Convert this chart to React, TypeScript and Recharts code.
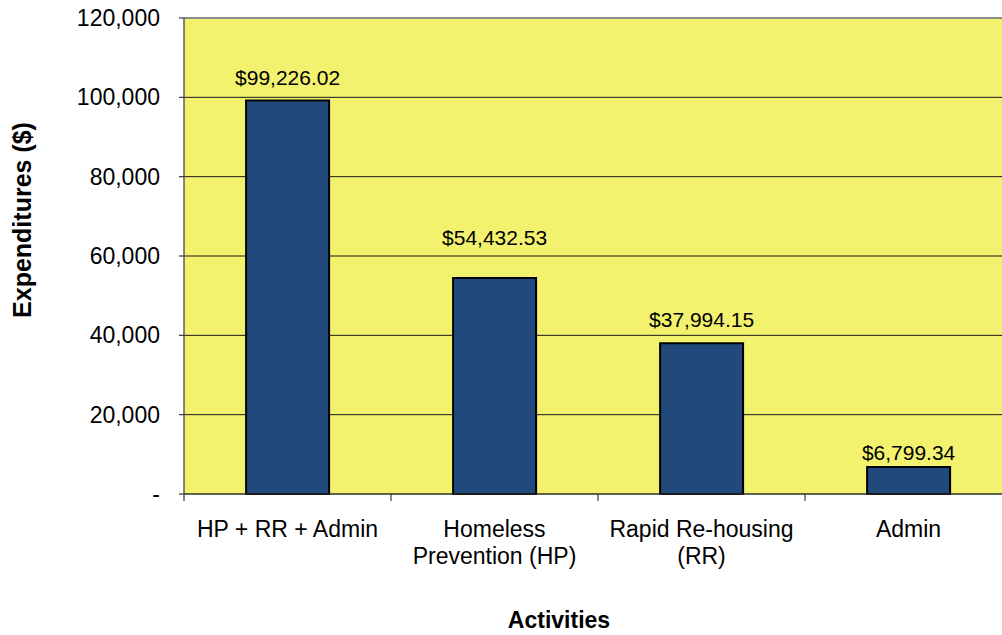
import React from 'react';
import { BarChart, Bar, XAxis, YAxis, CartesianGrid, ReferenceLine, LabelList } from 'recharts';

const categories = ['HP + RR + Admin', 'Homeless Prevention (HP)', 'Rapid Re-housing (RR)', 'Admin'];
const categoryLines = [['HP + RR + Admin'], ['Homeless', 'Prevention (HP)'], ['Rapid Re-housing', '(RR)'], ['Admin']];
const expenditures = [99226.02, 54432.53, 37994.15, 6799.34];
const yTicks = [0, 20000, 40000, 60000, 80000, 100000, 120000];
const labelLift = [15, 33, 16, 7];

const data = categories.map((name, i) => ({ name, value: expenditures[i] }));

const FONT = '"Liberation Sans", Arial, sans-serif';
const AXIS = '#3a3a3a';

const fmtMoney = (v: number) =>
  '$' + v.toLocaleString('en-US', { minimumFractionDigits: 2, maximumFractionDigits: 2 });
const fmtTick = (v: number) => (v === 0 ? '-' : v.toLocaleString('en-US'));

const CatTick = (props: any) => {
  const { x, y, payload, width, visibleTicksCount, index } = props;
  const idx = categories.indexOf(payload.value);
  const lines = idx >= 0 ? categoryLines[idx] : [String(payload.value)];
  const count = visibleTicksCount || categories.length;
  const band = width / count;
  const isLast = (index ?? idx) === count - 1;
  return (
    <g>
      <line x1={x - band / 2} x2={x - band / 2} y1={y} y2={y + 7} stroke={AXIS} strokeWidth={1.2} />
      {isLast && (
        <line x1={x + band / 2} x2={x + band / 2} y1={y} y2={y + 7} stroke={AXIS} strokeWidth={1.2} />
      )}
      <text x={x} y={y} textAnchor="middle" fontSize={23} fill="#000" fontFamily={FONT}>
        {lines.map((l, i) => (
          <tspan key={i} x={x} dy={i === 0 ? 43 : 27}>
            {l}
          </tspan>
        ))}
      </text>
    </g>
  );
};

const BarLabel = (props: any) => {
  const { x, y, width, value } = props;
  let index = props.index;
  if (index == null) index = expenditures.indexOf(value);
  const lift = labelLift[index] ?? 15;
  return (
    <text x={x + width / 2} y={y - lift} textAnchor="middle" fontSize={21} fill="#000" fontFamily={FONT}>
      {fmtMoney(value)}
    </text>
  );
};

const YTitle = (props: any) => {
  const vb = props.viewBox;
  const cx = vb.x + 22;
  const cy = vb.y + vb.height / 2 - 36;
  return (
    <text
      x={cx}
      y={cy}
      transform={`rotate(-90, ${cx}, ${cy})`}
      textAnchor="middle"
      dominantBaseline="central"
      fontSize={25}
      fontWeight="bold"
      fill="#000"
      fontFamily={FONT}
    >
      Expenditures ($)
    </text>
  );
};

const XTitle = (props: any) => {
  const vb = props.viewBox;
  return (
    <text
      x={vb.x + vb.width / 2 - 39}
      y={vb.y + 134}
      textAnchor="middle"
      fontSize={23}
      fontWeight="bold"
      fill="#000"
      fontFamily={FONT}
    >
      Activities
    </text>
  );
};

export default function App() {
  return (
    <div style={{ position: 'absolute', left: 0, top: 0, width: 1002, height: 635, overflow: 'hidden', background: '#fff' }}>
      <BarChart
        width={1020}
        height={635}
        data={data}
        margin={{ top: 18, right: 8, left: 0, bottom: 33 }}
        barCategoryGap="30%"
      >
        <CartesianGrid
          vertical={false}
          horizontal={true}
          stroke="#1a1a1a"
          fill="#F2F26E"
          fillOpacity={1}
        />
        <XAxis
          dataKey="name"
          type="category"
          height={108}
          axisLine={{ stroke: AXIS, strokeWidth: 1.2 }}
          tickLine={false}
          tickSize={0}
          tickMargin={0}
          interval={0}
          tick={<CatTick />}
          label={{ content: <XTitle /> }}
        />
        <YAxis
          width={184}
          domain={[0, 120000]}
          ticks={yTicks}
          interval={0}
          tickFormatter={fmtTick}
          tickSize={5}
          tickMargin={19}
          tick={{ fontSize: 23, fill: '#000', fontFamily: FONT }}
          axisLine={{ stroke: AXIS, strokeWidth: 1.2 }}
          tickLine={{ stroke: AXIS, strokeWidth: 1.2 }}
          label={{ content: <YTitle /> }}
        />
        <ReferenceLine y={120000} stroke="#8c8c8c" strokeWidth={2} />
        <Bar dataKey="value" fill="#21497B" stroke="#000" strokeWidth={2} isAnimationActive={false}>
          <LabelList dataKey="value" content={<BarLabel />} />
        </Bar>
      </BarChart>
    </div>
  );
}
